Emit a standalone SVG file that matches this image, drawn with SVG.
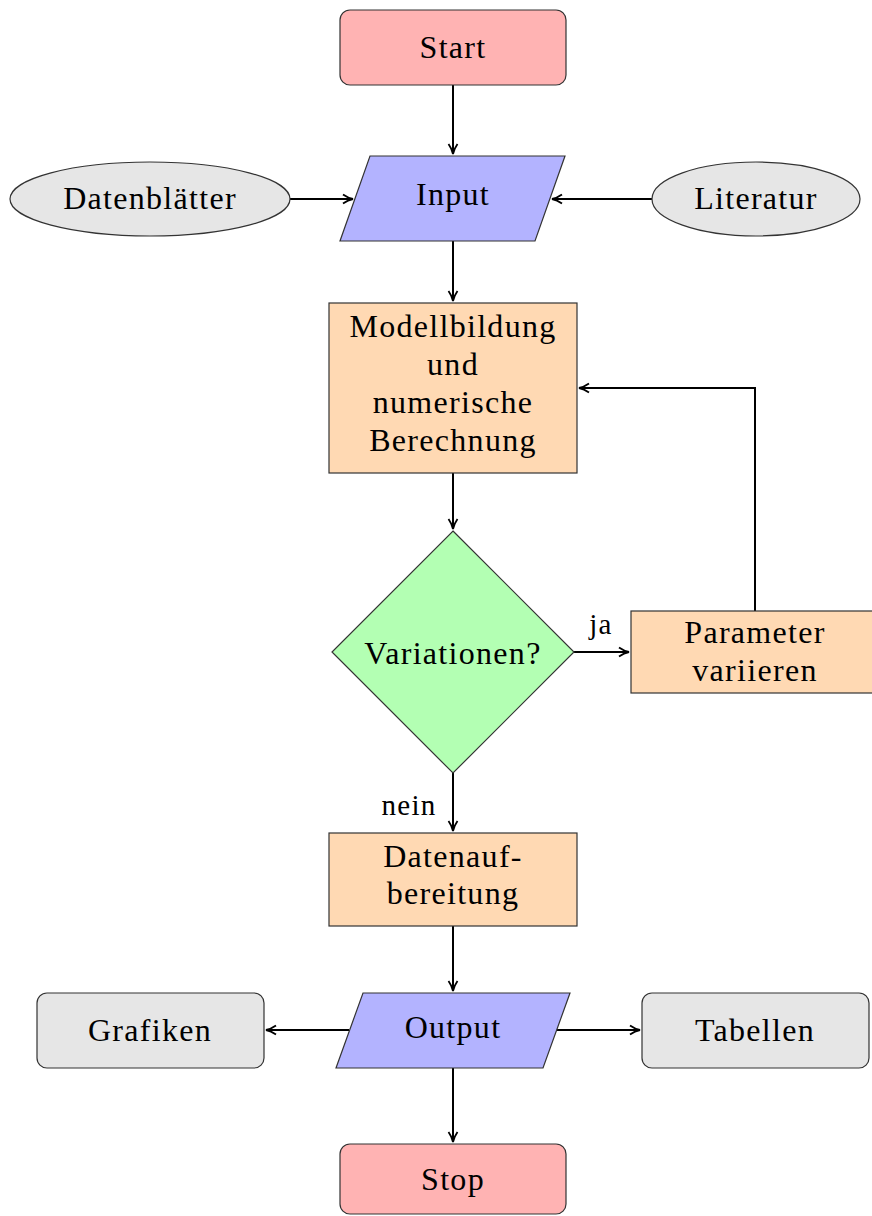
<svg xmlns="http://www.w3.org/2000/svg" width="872" height="1216" viewBox="0 0 872 1216">
<defs>
<style>
text{font-family:"Liberation Serif","DejaVu Serif",serif;font-size:32px;fill:#000;text-anchor:middle;letter-spacing:1.3px}
.n{stroke:#333;stroke-width:1.2}
.red{fill:#ffb3b3}.blue{fill:#b3b3ff}.gray{fill:#e6e6e6}.org{fill:#ffd9b3}.grn{fill:#b3ffb3}
.c{fill:none;stroke:#000;stroke-width:2}
.lbl{font-size:29px}
</style>
<marker id="ah" viewBox="0 0 12 12" refX="11" refY="6" markerWidth="12" markerHeight="12" markerUnits="userSpaceOnUse" orient="auto">
<path d="M1,1.5 Q6,5 11,6 Q6,7 1,10.5" fill="none" stroke="#000" stroke-width="1.8"/>
</marker>
</defs>
<rect width="872" height="1216" fill="#fff"/>
<g id="connectors">
<path class="c" d="M453,85 V154" marker-end="url(#ah)"/>
<path class="c" d="M290,199 H353" marker-end="url(#ah)"/>
<path class="c" d="M652,199 H552" marker-end="url(#ah)"/>
<path class="c" d="M453,241 V301" marker-end="url(#ah)"/>
<path class="c" d="M453,473 V529" marker-end="url(#ah)"/>
<path class="c" d="M574,652 H629" marker-end="url(#ah)"/>
<path class="c" d="M755,611 V388 H579" marker-end="url(#ah)"/>
<path class="c" d="M453,773 V831" marker-end="url(#ah)"/>
<path class="c" d="M453,926 V991" marker-end="url(#ah)"/>
<path class="c" d="M349,1030 H266" marker-end="url(#ah)"/>
<path class="c" d="M556,1030 H640" marker-end="url(#ah)"/>
<path class="c" d="M453,1068 V1142" marker-end="url(#ah)"/>
<text x="601" y="634" class="lbl">ja</text>
<text x="409" y="815" class="lbl">nein</text>
</g>
<g id="start"><rect class="n red" x="340" y="10" width="226" height="75" rx="10"/><text x="453" y="58">Start</text></g>
<g id="input"><polygon class="n blue" points="370,156 565,156 535,241 340,241"/><text x="453" y="205">Input</text></g>
<g id="datenblaetter"><ellipse class="n gray" cx="150" cy="199" rx="140" ry="37"/><text x="150" y="209">Datenblätter</text></g>
<g id="literatur"><ellipse class="n gray" cx="756" cy="199" rx="104" ry="37"/><text x="756" y="209">Literatur</text></g>
<g id="modell"><rect class="n org" x="329" y="303" width="248" height="170"/>
<text x="453" y="337">Modellbildung</text><text x="453" y="375">und</text><text x="453" y="413">numerische</text><text x="453" y="451">Berechnung</text></g>
<g id="variationen"><polygon class="n grn" points="453,531 574,652 453,773 332,652"/><text x="453" y="664">Variationen?</text></g>
<g id="parameter"><rect class="n org" x="631" y="611" width="250" height="82"/><text x="755" y="643">Parameter</text><text x="755" y="681">variieren</text></g>
<g id="datenaufbereitung"><rect class="n org" x="329" y="833" width="248" height="93"/><text x="453" y="867">Datenauf-</text><text x="453" y="904">bereitung</text></g>
<g id="output"><polygon class="n blue" points="363,993 570,993 543,1068 336,1068"/><text x="453" y="1038">Output</text></g>
<g id="grafiken"><rect class="n gray" x="37" y="993" width="227" height="75" rx="10"/><text x="150" y="1041">Grafiken</text></g>
<g id="tabellen"><rect class="n gray" x="642" y="993" width="227" height="75" rx="10"/><text x="755" y="1041">Tabellen</text></g>
<g id="stop"><rect class="n red" x="340" y="1144" width="226" height="70" rx="10"/><text x="453" y="1190">Stop</text></g>
</svg>
